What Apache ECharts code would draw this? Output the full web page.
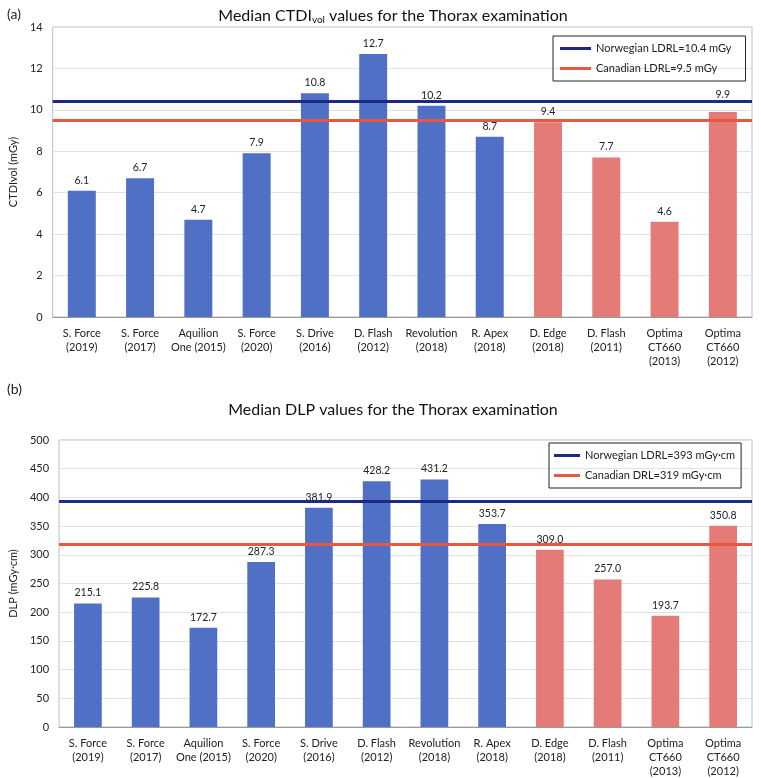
<!DOCTYPE html>
<html><head><meta charset="utf-8">
<script src="https://cdn.jsdelivr.net/npm/echarts@6/dist/echarts.min.js"></script>
<style>html,body{margin:0;padding:0;background:#fff}#c{width:761px;height:778px}</style>
</head><body><div id="c"></div>
<script>
const categories = ["S. Force\n(2019)","S. Force\n(2017)","Aquilion\nOne (2015)","S. Force\n(2020)","S. Drive\n(2016)","D. Flash\n(2012)","Revolution\n(2018)","R. Apex\n(2018)","D. Edge\n(2018)","D. Flash\n(2011)","Optima\nCT660\n(2013)","Optima\nCT660\n(2012)"];
const ctdiValues = [6.1, 6.7, 4.7, 7.9, 10.8, 12.7, 10.2, 8.7, 9.4, 7.7, 4.6, 9.9];
const dlpValues = [215.1, 225.8, 172.7, 287.3, 381.9, 428.2, 431.2, 353.7, 309.0, 257.0, 193.7, 350.8];
const ctdiRefs = [{name:"Norwegian LDRL=10.4 mGy", value:10.4},{name:"Canadian LDRL=9.5 mGy", value:9.5}];
const dlpRefs = [{name:"Norwegian LDRL=393 mGy·cm", value:393},{name:"Canadian DRL=319 mGy·cm", value:319}];
const blueCount = 8;

const FONT = 'Lato, "Open Sans", sans-serif';
const BLUE = '#4f70c4', RED = '#e57b76', NAVY = '#1c2a85', ORANGE = '#e8573f';
const refColors = [NAVY, ORANGE];

function catAxis(gi){
  return {type:'category', gridIndex:gi, data:categories,
    axisTick:{show:false}, axisLine:{lineStyle:{color:'#999'}},
    axisLabel:{interval:0, fontFamily:FONT, fontSize:11, color:'#222', lineHeight:14, margin:9}};
}
function valAxis(gi, max, interval, name){
  return {type:'value', gridIndex:gi, min:0, max:max, interval:interval,
    name:name, nameLocation:'middle', nameGap:29, nameTextStyle:{fontFamily:FONT, fontSize:11, color:'#222'},
    axisLine:{show:false}, axisTick:{show:false},
    splitLine:{lineStyle:{color:'#e2e2e2'}},
    axisLabel:{fontFamily:FONT, fontSize:11, color:'#222', margin:10}};
}
function barSeries(gi, vals, raised){
  return {type:'bar', xAxisIndex:gi, yAxisIndex:gi,
    data:vals.map((v,i)=>raised.includes(i)?{value:v, label:{distance:12}}:v), barWidth:'48%',
    itemStyle:{color:p=>p.dataIndex<blueCount?BLUE:RED},
    label:{show:true, position:'top', distance:5, fontFamily:FONT, fontSize:10.5, color:'#222',
      formatter:p=>p.value.toFixed(1)},
    z:2};
}
function refSeries(gi, refs){
  return refs.map((r,i)=>({type:'line', name:r.name, xAxisIndex:gi, yAxisIndex:gi, data:[],
    color:refColors[i], lineStyle:{color:refColors[i], width:3}, z:5,
    markLine:{silent:true, symbol:'none', label:{show:false}, animation:false,
      lineStyle:{color:refColors[i], width:3, type:'solid'}, data:[{yAxis:r.value}]}}));
}
function legend(refs, left, top, iw, pad){
  return {data:refs.map(r=>r.name), orient:'vertical', left:left, top:top,
    borderColor:'#222', borderWidth:1, padding:pad, itemGap:9,
    icon:'rect', itemWidth:iw, itemHeight:3, itemTextGap:2,
    textStyle:{fontFamily:FONT, fontSize:11, color:'#222'}};
}

const chart = echarts.init(document.getElementById('c'), null, {renderer:'canvas'});
chart.setOption({
  animation:false,
  title:[
    {text:'(a)', left:2, top:2, textStyle:{fontFamily:FONT, fontSize:14, fontWeight:'normal', color:'#222'}},
    {text:'Median CTDI{s|vol} values for the Thorax examination', left:388, textAlign:'center', top:2,
      textStyle:{fontFamily:FONT, fontSize:16, fontWeight:'normal', color:'#111',
        rich:{s:{fontFamily:FONT, fontSize:10, color:'#111', verticalAlign:'bottom', padding:[8,0,0,0]}}}},
    {text:'(b)', left:2, top:377, textStyle:{fontFamily:FONT, fontSize:14, fontWeight:'normal', color:'#222'}},
    {text:'Median DLP values for the Thorax examination', left:388, textAlign:'center', top:397,
      textStyle:{fontFamily:FONT, fontSize:16, fontWeight:'normal', color:'#111'}}
  ],
  legend:[legend(ctdiRefs, 553, 36, 31, [7,14,7,7]), legend(dlpRefs, 549, 443, 26, [7,6,7,5])],
  grid:[
    {left:46, width:706, top:27, height:290, show:true, borderColor:'#bdbdbd', borderWidth:1},
    {left:46, width:706, top:440, height:288, show:true, borderColor:'#bdbdbd', borderWidth:1}
  ],
  xAxis:[catAxis(0), catAxis(1)],
  yAxis:[valAxis(0, 14, 2, 'CTDIvol (mGy)'), valAxis(1, 500, 50, 'DLP (mGy·cm)')],
  series:[barSeries(0, ctdiValues, [11]), ...refSeries(0, ctdiRefs), barSeries(1, dlpValues, []), ...refSeries(1, dlpRefs)]
});
</script></body></html>
